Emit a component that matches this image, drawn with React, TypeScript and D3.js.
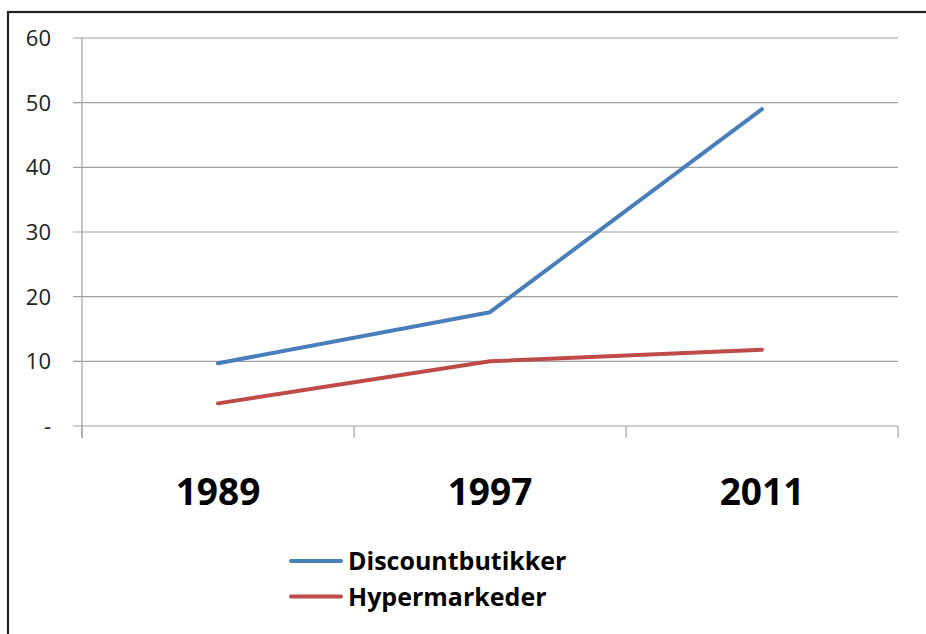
import React from "react";
import * as d3 from "d3";

const categories = ["1989", "1997", "2011"];
const discount = [9.7, 17.6, 49.0];
const hyper = [3.5, 10.0, 11.8];
const yTicks = [0, 10, 20, 30, 40, 50, 60];
const seriesNames = ["Discountbutikker", "Hypermarkeder"];
const colors = ["#4a7ebb", "#be4b48"];

export default function App() {
  const W = 926, H = 634;
  const left = 82, right = 898, top = 38, bottom = 426;
  const x = d3.scaleBand<string>().domain(categories).range([left, right]);
  const y = d3.scaleLinear().domain([0, 60]).range([bottom, top]);
  const line = d3
    .line<number>()
    .x((_, i) => (x(categories[i]) as number) + x.bandwidth() / 2)
    .y((d) => y(d));
  const font = "'Open Sans', 'Noto Sans', sans-serif";
  const series = [discount, hyper];
  const bounds = [left, ...categories.map((c) => (x(c) as number) + x.bandwidth())];
  return (
    <svg
      width={W}
      height={H}
      style={{ position: "absolute", left: 0, top: 0, display: "block" }}
    >
      <rect x={0} y={0} width={W} height={H} fill="#fff" />
      <rect x={8} y={12} width={W + 10} height={H + 10} fill="none" stroke="#222" strokeWidth={2.2} />
      {yTicks.map((t) => (
        <g key={t}>
          <line x1={73} x2={right} y1={y(t)} y2={y(t)} stroke="#a0a0a0" strokeWidth={1.2} />
          <text
            x={51}
            y={y(t)}
            dy="0.36em"
            textAnchor="end"
            fontFamily={font}
            fontSize={22}
            fill="#222"
          >
            {t === 0 ? "-" : t}
          </text>
        </g>
      ))}
      <line x1={left} x2={left} y1={top} y2={438} stroke="#a0a0a0" strokeWidth={1.2} />
      {bounds.map((b, i) => (
        <line key={i} x1={b} x2={b} y1={bottom} y2={438} stroke="#a0a0a0" strokeWidth={1.2} />
      ))}
      {categories.map((c) => (
        <text
          key={c}
          x={(x(c) as number) + x.bandwidth() / 2}
          y={505}
          textAnchor="middle"
          fontFamily={font}
          fontWeight="bold"
          fontSize={37}
          fill="#000"
        >
          {c}
        </text>
      ))}
      {series.map((s, i) => (
        <path
          key={i}
          d={line(s) as string}
          fill="none"
          stroke={colors[i]}
          strokeWidth={4}
          strokeLinecap="round"
          strokeLinejoin="round"
        />
      ))}
      {seriesNames.map((n, i) => (
        <g key={n}>
          <line
            x1={291}
            x2={341}
            y1={561 + i * 35.5}
            y2={561 + i * 35.5}
            stroke={colors[i]}
            strokeWidth={4}
            strokeLinecap="round"
          />
          <text
            x={348}
            y={561 + i * 35.5}
            dy="0.36em"
            fontFamily={font}
            fontWeight="bold"
            fontSize={25}
            fill="#000"
          >
            {n}
          </text>
        </g>
      ))}
    </svg>
  );
}
